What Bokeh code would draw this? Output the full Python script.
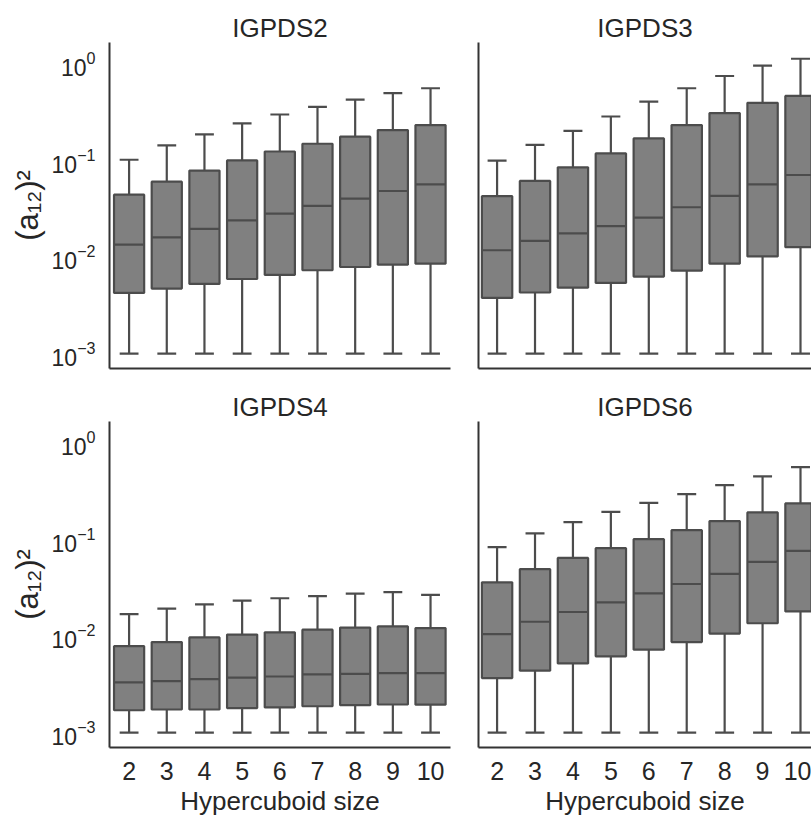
from bokeh.plotting import figure
from bokeh.layouts import column, row
from bokeh.models import Range1d, ColumnDataSource, FixedTicker
from bokeh.embed import file_html
from bokeh.resources import INLINE

sizes = ["2", "3", "4", "5", "6", "7", "8", "9", "10"]

igpds2_upper = [0.101, 0.142, 0.185, 0.240, 0.297, 0.356, 0.424, 0.493, 0.555]
igpds2_q3 = [0.044, 0.060, 0.078, 0.0995, 0.123, 0.148, 0.175, 0.205, 0.231]
igpds2_med = [0.0134, 0.0159, 0.0195, 0.0238, 0.028, 0.0337, 0.040, 0.048, 0.0563]
igpds2_q1 = [0.00424, 0.0047, 0.00525, 0.0059, 0.0065, 0.00727, 0.00785, 0.0083, 0.0085]
igpds2_lower = [0.001, 0.001, 0.001, 0.001, 0.001, 0.001, 0.001, 0.001, 0.001]

igpds3_upper = [0.099, 0.144, 0.201, 0.283, 0.404, 0.555, 0.743, 0.949, 1.12]
igpds3_q3 = [0.0424, 0.061, 0.0843, 0.1175, 0.168, 0.231, 0.307, 0.392, 0.462]
igpds3_med = [0.0117, 0.0146, 0.0175, 0.0208, 0.0255, 0.0326, 0.0428, 0.0563, 0.0703]
igpds3_q1 = [0.00376, 0.00428, 0.0048, 0.00537, 0.00625, 0.0072, 0.0085, 0.0101, 0.0126]
igpds3_lower = [0.001, 0.001, 0.001, 0.001, 0.001, 0.001, 0.001, 0.001, 0.001]

igpds4_upper = [0.0168, 0.0191, 0.0212, 0.0232, 0.0245, 0.0258, 0.0273, 0.0283, 0.0265]
igpds4_q3 = [0.00783, 0.00863, 0.00964, 0.0103, 0.01087, 0.0116, 0.01217, 0.01253, 0.01205]
igpds4_med = [0.0033, 0.0034, 0.00356, 0.00369, 0.0038, 0.0040, 0.00405, 0.00411, 0.00411]
igpds4_q1 = [0.0017, 0.00173, 0.00173, 0.00179, 0.00182, 0.00187, 0.00192, 0.00195, 0.00194]
igpds4_lower = [0.001, 0.001, 0.001, 0.001, 0.001, 0.001, 0.001, 0.001, 0.001]

igpds6_upper = [0.0826, 0.115, 0.150, 0.192, 0.238, 0.292, 0.363, 0.447, 0.557]
igpds6_q3 = [0.0358, 0.0489, 0.064, 0.0807, 0.100, 0.124, 0.154, 0.189, 0.2345]
igpds6_med = [0.01044, 0.0140, 0.01766, 0.0222, 0.0275, 0.0344, 0.0437, 0.0582, 0.0757]
igpds6_q1 = [0.00366, 0.00436, 0.00519, 0.00614, 0.0072, 0.00863, 0.01055, 0.0135, 0.0179]
igpds6_lower = [0.001, 0.001, 0.001, 0.001, 0.001, 0.001, 0.001, 0.001, 0.001]

FONT = "Liberation Sans"
TEXT = "#262626"
FILL = "#808080"
EDGE = "#4c4c4c"
Y_LO, Y_HI = 7.0e-4, 1.65


def panel(title, upper, q3, med, q1, lower, show_y, show_x,
          frame_w, x_start, x_end, bl, br, bt, bb, frame_h):
    p = figure(title=title, y_axis_type="log", output_backend="svg",
               toolbar_location=None, frame_width=frame_w, frame_height=frame_h,
               min_border_left=bl, min_border_right=br, min_border_top=bt,
               min_border_bottom=bb,
               x_range=Range1d(x_start, x_end), y_range=Range1d(Y_LO, Y_HI))
    xs = list(range(len(sizes)))
    src = ColumnDataSource(dict(
        x=xs, upper=upper, q3=q3, med=med, q1=q1, lower=lower,
        xl=[v - 0.4 for v in xs], xr=[v + 0.4 for v in xs],
        cl=[v - 0.25 for v in xs], cr=[v + 0.25 for v in xs]))
    p.segment(x0="x", y0="q3", x1="x", y1="upper", source=src,
              line_color=EDGE, line_width=2.2)
    p.segment(x0="x", y0="q1", x1="x", y1="lower", source=src,
              line_color=EDGE, line_width=2.2)
    p.segment(x0="cl", y0="upper", x1="cr", y1="upper", source=src,
              line_color=EDGE, line_width=2.2)
    p.segment(x0="cl", y0="lower", x1="cr", y1="lower", source=src,
              line_color=EDGE, line_width=2.2)
    p.vbar(x="x", width=0.8, top="q3", bottom="q1", source=src,
           fill_color=FILL, line_color=EDGE, line_width=2.2)
    p.segment(x0="xl", y0="med", x1="xr", y1="med", source=src,
              line_color=EDGE, line_width=2.2)

    p.title.text_font = FONT
    p.title.text_font_size = "26px"
    p.title.text_font_style = "normal"
    p.title.text_color = TEXT
    p.title.align = "center"
    p.title.standoff = 0

    p.grid.visible = False
    p.outline_line_color = None
    p.background_fill_color = "white"
    p.border_fill_color = "white"

    for ax in (p.xaxis[0], p.yaxis[0]):
        ax.axis_line_color = "#333333"
        ax.axis_line_width = 2
        ax.major_tick_line_color = None
        ax.minor_tick_line_color = None
        ax.major_tick_out = 0
        ax.major_tick_in = 0
        ax.minor_tick_out = 0
        ax.minor_tick_in = 0
        ax.major_label_text_font = FONT
        ax.major_label_text_color = TEXT
        ax.axis_label_text_font = FONT
        ax.axis_label_text_color = TEXT
        ax.axis_label_text_font_style = "normal"

    xa = p.xaxis[0]
    if show_x:
        xa.ticker = FixedTicker(ticks=xs)
        xa.major_label_overrides = {i: s for i, s in enumerate(sizes)}
        xa.major_label_text_font_size = "25px"
        xa.major_label_standoff = 14
        xa.axis_label = "Hypercuboid size"
        xa.axis_label_text_font_size = "26px"
        xa.axis_label_standoff = 3
    else:
        xa.ticker = FixedTicker(ticks=[])
        xa.major_label_standoff = 0

    ya = p.yaxis[0]
    if show_y:
        ya.major_label_text_font_size = "23px"
        ya.major_label_standoff = 14
        ya.axis_label = "(a₁₂)²"
        ya.axis_label_text_font_size = "31px"
        ya.axis_label_standoff = 4
    else:
        ya.ticker = FixedTicker(ticks=[])
        ya.major_label_standoff = 0
    return p


p1 = panel("IGPDS2", igpds2_upper, igpds2_q3, igpds2_med, igpds2_q1, igpds2_lower,
           True, False, 341, -0.52, 8.53, 109, 10, 42, 11, 326)
p2 = panel("IGPDS3", igpds3_upper, igpds3_q3, igpds3_med, igpds3_q1, igpds3_lower,
           False, False, 333, -0.49, 8.29, 18, 0, 42, 11, 326)
p3 = panel("IGPDS4", igpds4_upper, igpds4_q3, igpds4_med, igpds4_q1, igpds4_lower,
           True, True, 341, -0.52, 8.53, 109, 10, 42, 69, 326)
p4 = panel("IGPDS6", igpds6_upper, igpds6_q3, igpds6_med, igpds6_q1, igpds6_lower,
           False, True, 333, -0.49, 8.29, 18, 0, 42, 69, 326)

layout = column(row(p1, p2, spacing=0), row(p3, p4, spacing=0), spacing=0)
open("out.html", "w").write(file_html(layout, INLINE))
